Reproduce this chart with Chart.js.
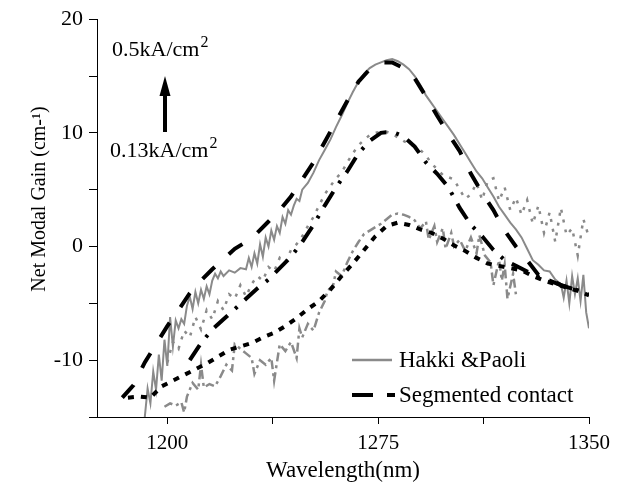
<!DOCTYPE html>
<html>
<head>
<meta charset="utf-8">
<script src="https://cdn.jsdelivr.net/npm/chart.js@4"></script>
<style>
  html, body { margin: 0; padding: 0; background: #fff; }
  #wrap { width: 623px; height: 485px; }
</style>
</head>
<body>
<div id="wrap"><canvas id="gainChart" width="623" height="485"></canvas></div>
<script>
// axis ticks
const xTickValues = [1200, 1237.5, 1275, 1312.5, 1350];
const xTickLabels = ['1200', '', '1275', '', '1350'];
const yTickLabels = { '-10': '-10', '0': '0', '10': '10', '20': '20' };

// Hakki & Paoli (grey), [wavelength nm, gain cm-1]
const hakkiHigh = [
  [1192,-15],[1193,-12.5],[1194,-13.8],[1195,-11],[1196,-12.6],[1197,-9.5],[1198,-11.8],[1199,-8.2],
  [1200,-10.5],[1201,-6.2],[1202,-8.8],[1203,-6.5],[1204,-7.2],[1205,-6.4],[1206,-6.8],[1207,-5.2],
  [1208,-4.4],[1209,-5.5],[1210,-4.0],[1211,-5.0],[1212,-3.8],[1213,-4.6],[1214,-3.5],[1215,-4.2],
  [1216,-3.0],[1217,-2.4],[1218,-2.8],[1219,-2.2],[1220,-2.6],[1222,-2.1],[1224,-2.3],[1226,-1.9],
  [1228,-2.0],[1229,-1.0],[1230,-1.8],[1231,-0.6],[1232,-1.5],[1233,0.2],[1234,-0.9],[1235,0.8],
  [1236,0.0],[1237,1.4],[1238,0.6],[1239,1.8],[1240,1.2],[1241,2.6],[1242,2.0],[1243,3.2],
  [1244,2.8],[1245,3.6],[1246,4.2],[1247,4.0],[1248,5.0],[1250,5.6],[1252,6.5],[1254,7.6],
  [1256,8.5],[1258,9.4],[1260,10.5],[1262,11.5],[1264,12.6],[1266,13.6],[1268,14.5],[1270,15.2],
  [1272,15.7],[1274,16.0],[1276,16.2],[1278,16.4],[1280,16.5],[1282,16.3],[1284,16.0],[1286,15.6],
  [1288,15.0],[1290,14.2],[1292,13.3],[1294,12.6],[1296,11.9],[1298,11.2],[1300,10.5],[1302,9.8],
  [1304,9.0],[1306,8.2],[1308,7.4],[1310,6.6],[1312,6.0],[1314,5.2],[1316,4.4],[1318,3.5],
  [1320,2.8],[1322,2.1],[1324,1.5],[1326,0.8],[1328,-0.2],[1330,-1.2],[1332,-1.6],[1334,-2.1],
  [1336,-2.2],[1338,-2.9],[1340,-3.3],[1341,-4.5],[1342,-3.0],[1343,-5.0],[1344,-2.6],[1345,-4.2],
  [1346,-2.8],[1347,-4.8],[1348,-2.5],[1349,-5.8],[1350,-7.2]
];
const hakkiMid = [
  [1200,-10.2],[1202,-8.4],[1204,-9.0],[1206,-7.4],[1208,-8.0],[1210,-6.2],[1212,-7.3],[1214,-5.6],
  [1216,-6.4],[1218,-4.8],[1220,-5.6],[1222,-4.2],[1224,-4.6],[1226,-3.4],[1228,-4.4],[1230,-3.3],
  [1232,-2.6],[1234,-3.0],[1236,-1.8],[1238,-2.2],[1240,-1.0],[1242,-1.4],[1244,-0.3],[1246,0.2],
  [1248,0.9],[1250,1.8],[1252,2.6],[1254,3.6],[1256,4.6],[1258,5.3],[1260,6.0],[1262,6.5],
  [1264,7.4],[1266,8.2],[1268,8.9],[1270,9.4],[1272,9.8],[1274,10.0],[1276,10.1],[1278,10.1],
  [1280,9.9],[1282,9.6],[1284,9.3],[1286,9.0],[1288,8.8],[1290,8.5],[1292,8.0],[1294,7.3],
  [1296,6.8],[1298,6.3],[1300,6.1],[1302,5.9],[1304,5.0],[1306,4.2],[1308,4.6],[1310,5.6],
  [1312,4.1],[1314,5.8],[1316,6.0],[1318,4.0],[1320,5.2],[1322,3.2],[1324,4.3],[1326,2.8],
  [1328,4.1],[1330,2.0],[1332,3.6],[1334,1.2],[1336,3.0],[1338,0.4],[1340,3.4],[1342,1.0],
  [1344,1.6],[1346,-0.8],[1348,2.4],[1350,0.8]
];
const hakkiLow = [
  [1199,-14.1],[1201,-13.8],[1203,-14.0],[1205,-13.7],[1206,-14.6],[1207,-13.2],[1209,-12.0],[1211,-12.6],
  [1212,-10.4],[1213,-12.4],[1215,-12.1],[1217,-12.3],[1219,-11.4],[1221,-10.4],[1223,-10.9],[1224,-8.6],
  [1226,-9.0],[1228,-9.4],[1230,-9.8],[1231,-11.2],[1233,-10.0],[1235,-10.4],[1237,-9.8],[1238,-11.8],
  [1240,-8.6],[1242,-9.2],[1244,-8.4],[1246,-9.8],[1247,-7.2],[1248,-8.0],[1250,-6.8],[1252,-7.4],
  [1254,-5.8],[1256,-4.8],[1257,-3.9],[1259,-3.4],[1260,-2.2],[1262,-2.6],[1264,-1.4],[1266,-0.4],
  [1268,0.4],[1270,1.1],[1272,1.4],[1274,1.7],[1276,2.0],[1278,2.4],[1280,2.8],[1282,2.9],
  [1284,2.8],[1286,2.6],[1288,2.3],[1290,1.6],[1292,2.2],[1293,0.6],[1295,1.8],[1296,0.4],
  [1298,1.6],[1299,-0.2],[1301,1.2],[1302,0.0],[1304,0.6],[1306,-0.4],[1308,0.8],[1310,-0.6],
  [1311,1.0],[1313,-0.8],[1315,-1.4],[1316,-3.4],[1318,-1.2],[1319,-3.0],[1320,-1.6],[1321,-4.6],
  [1323,-2.4],[1324,-4.2]
];

// Segmented contact (black)
const segHigh = [
  [1184,-13.3],[1188,-12.2],[1192,-10.2],[1196,-8.6],[1200,-7.0],[1204,-5.6],[1208,-4.1],[1212,-3.0],
  [1216,-2.0],[1220,-1.1],[1224,-0.2],[1228,0.4],[1232,1.2],[1236,2.2],[1240,3.2],[1244,4.4],
  [1248,5.9],[1252,7.4],[1256,9.2],[1260,11.0],[1264,12.8],[1268,14.5],[1272,15.6],[1276,16.2],
  [1280,16.2],[1284,15.7],[1288,14.8],[1292,13.2],[1296,11.5],[1300,9.9],[1304,8.4],[1308,6.4],
  [1312,4.7],[1316,3.2],[1320,1.4],[1324,0.0],[1328,-1.2],[1332,-2.5],[1336,-2.9],[1340,-3.4],
  [1344,-3.7],[1348,-4.0],[1350,-4.3]
];
const segMid = [
  [1208,-10.0],[1212,-8.5],[1216,-7.3],[1220,-6.4],[1224,-5.5],[1228,-4.6],[1232,-3.7],[1236,-2.9],
  [1240,-1.9],[1244,-0.9],[1248,0.4],[1252,1.9],[1256,3.6],[1260,5.2],[1264,6.6],[1268,8.2],
  [1272,9.3],[1276,10.0],[1280,10.1],[1284,9.7],[1288,8.8],[1292,7.4],[1296,6.4],[1300,5.2],
  [1304,3.4],[1308,1.9],[1312,0.9],[1316,-0.3],[1320,-1.2],[1324,-1.7],[1328,-2.2],[1332,-2.7],
  [1336,-3.0],[1340,-3.4],[1344,-3.7],[1348,-4.0],[1350,-4.2]
];
const segLow = [
  [1186,-13.3],[1190,-13.2],[1194,-13.3],[1198,-12.3],[1202,-11.8],[1206,-11.3],[1210,-10.8],[1214,-10.3],
  [1218,-9.7],[1222,-9.1],[1226,-8.8],[1230,-8.5],[1234,-8.0],[1238,-7.6],[1242,-7.0],[1246,-6.3],
  [1250,-5.5],[1254,-4.8],[1258,-3.8],[1262,-2.6],[1266,-1.5],[1270,-0.3],[1274,0.9],[1278,1.8],
  [1282,2.1],[1286,1.9],[1290,1.5],[1294,1.2],[1298,0.7],[1302,0.1],[1306,-0.4],[1310,-1.0],
  [1314,-1.5],[1318,-1.7],[1322,-1.9],[1326,-2.1],[1330,-2.6],[1334,-3.0],[1338,-3.3],[1342,-3.6],
  [1346,-3.9],[1350,-4.3]
];

const GREY = '#8a8a8a';
const SERIF = '"Liberation Serif", "Times New Roman", serif';

const toPoints = (arr) => arr.map(([x, y]) => ({ x, y }));

function line(data, color, width, dash, order) {
  return {
    data: toPoints(data),
    borderColor: color,
    borderWidth: width,
    borderDash: dash,
    borderCapStyle: 'butt',
    pointRadius: 0,
    tension: 0,
    fill: false,
    order: order
  };
}

// titles, arrow, notes and legend drawn straight on the canvas
const decorations = {
  id: 'decorations',
  afterDraw(chart) {
    const c = chart.ctx;
    c.save();
    c.fillStyle = '#000';
    c.textBaseline = 'alphabetic';

    // axis titles
    c.font = '23px ' + SERIF;
    c.textAlign = 'center';
    c.fillText('Wavelength(nm)', (chart.chartArea.left + chart.chartArea.right) / 2, 477);
    c.save();
    c.translate(45, 199);
    c.rotate(-Math.PI / 2);
    c.font = '20px ' + SERIF;
    c.fillText('Net Modal Gain (cm-\u00B9)', 0, 0);
    c.restore();

    // current density notes
    c.textAlign = 'left';
    const note = (text, x, y) => {
      c.font = '22px ' + SERIF;
      c.fillText(text, x, y);
      const w = c.measureText(text).width;
      c.font = '16px ' + SERIF;
      c.fillText('2', x + w + 1, y - 9);
    };
    note('0.5kA/cm', 112, 56);
    note('0.13kA/cm', 110, 157);

    // arrow
    c.strokeStyle = '#000';
    c.lineWidth = 4;
    c.beginPath();
    c.moveTo(165, 132);
    c.lineTo(165, 92);
    c.stroke();
    c.beginPath();
    c.moveTo(165, 76);
    c.lineTo(170.5, 96);
    c.lineTo(159.5, 96);
    c.closePath();
    c.fill();

    // legend
    c.lineWidth = 2.5;
    c.strokeStyle = GREY;
    c.beginPath();
    c.moveTo(352, 360);
    c.lineTo(392, 360);
    c.stroke();
    c.lineWidth = 4;
    c.strokeStyle = '#000';
    c.beginPath();
    c.moveTo(352, 395);
    c.lineTo(373, 395);
    c.moveTo(387, 395);
    c.lineTo(395, 395);
    c.stroke();
    c.font = '23px ' + SERIF;
    c.fillText('Hakki &Paoli', 399, 367);
    c.fillText('Segmented contact', 399, 402);
    c.restore();
  }
};

new Chart(document.getElementById('gainChart'), {
  type: 'line',
  data: {
    datasets: [
      line(segHigh, '#000', 4, [17, 19], 1),
      line(segMid, '#000', 4, [18, 10, 3, 10], 2),
      line(segLow, '#000', 4, [6, 7], 3),
      line(hakkiHigh, GREY, 2, [], 4),
      line(hakkiMid, GREY, 2.5, [3, 7], 5),
      line(hakkiLow, GREY, 2.5, [9, 4, 3, 4], 6)
    ]
  },
  options: {
    responsive: false,
    animation: false,
    events: [],
    layout: { padding: { left: 0, right: 34, top: 18, bottom: 0 } },
    plugins: { legend: { display: false }, tooltip: { enabled: false } },
    scales: {
      x: {
        type: 'linear',
        min: 1175,
        max: 1350,
        afterBuildTicks: (scale) => { scale.ticks = xTickValues.map((v) => ({ value: v })); },
        afterFit: (scale) => { scale.height = 68; },
        grid: { drawOnChartArea: false, drawTicks: true, tickLength: 7, color: '#000', lineWidth: 1 },
        border: { display: true, color: '#000', width: 1 },
        ticks: {
          autoSkip: false,
          maxRotation: 0,
          padding: 7,
          color: '#000',
          font: { family: SERIF, size: 21 },
          callback: (v) => xTickLabels[xTickValues.indexOf(v)] ?? ''
        }
      },
      y: {
        min: -15,
        max: 20,
        afterFit: (scale) => { scale.width = 97; },
        grid: { drawOnChartArea: false, drawTicks: true, tickLength: 8, color: '#000', lineWidth: 1 },
        border: { display: true, color: '#000', width: 1 },
        ticks: {
          stepSize: 5,
          autoSkip: false,
          padding: 6,
          color: '#000',
          font: { family: SERIF, size: 22 },
          callback: (v) => yTickLabels[String(v)] ?? ''
        }
      }
    }
  },
  plugins: [decorations]
});
</script>
</body>
</html>
